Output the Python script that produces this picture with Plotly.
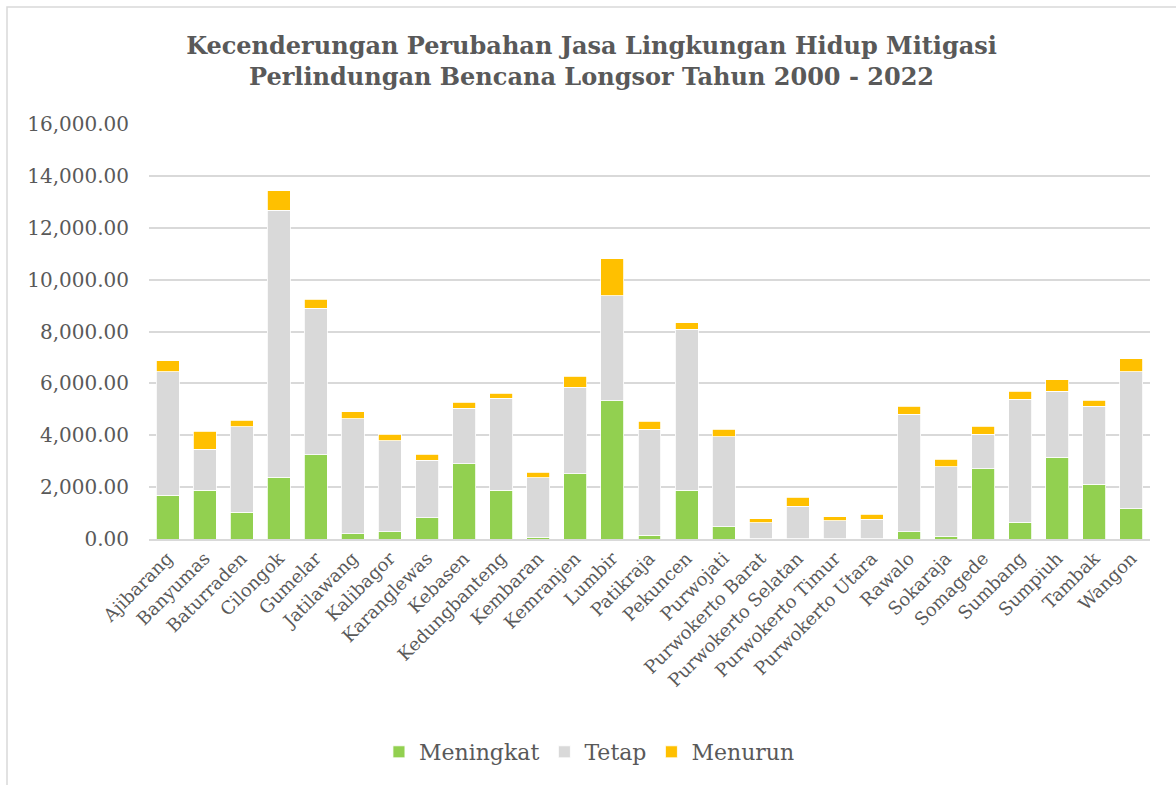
import plotly.graph_objects as go

# Kecamatan in Kabupaten Banyumas
kecamatan = [
    "Ajibarang", "Banyumas", "Baturraden", "Cilongok", "Gumelar", "Jatilawang",
    "Kalibagor", "Karanglewas", "Kebasen", "Kedungbanteng", "Kembaran",
    "Kemranjen", "Lumbir", "Patikraja", "Pekuncen", "Purwojati",
    "Purwokerto Barat", "Purwokerto Selatan", "Purwokerto Timur",
    "Purwokerto Utara", "Rawalo", "Sokaraja", "Somagede", "Sumbang",
    "Sumpiuh", "Tambak", "Wangon",
]

# Area per trend class (stacked)
meningkat = [1696, 1877, 1041, 2390, 3250, 205, 283, 822, 2904, 1877, 77,
             2518, 5333, 154, 1877, 475, 5, 15, 3, 3, 283, 90, 2711, 655,
             3161, 2107, 1169]
tetap = [4754, 1593, 3289, 10281, 5655, 4433, 3507, 2223, 2133, 3546, 2287,
         3329, 4048, 4087, 6206, 3470, 624, 1257, 704, 768, 4536, 2699, 1337,
         4742, 2544, 3020, 5281]
menurun = [424, 693, 257, 757, 347, 271, 258, 232, 232, 205, 219, 437, 1426,
           308, 257, 283, 155, 347, 154, 193, 308, 295, 308, 296, 437, 231,
           501]

y_ticks = [0, 2000, 4000, 6000, 8000, 10000, 12000, 14000, 16000]

series = [
    ("Meningkat", meningkat, "#92D050"),
    ("Tetap", tetap, "#D9D9D9"),
    ("Menurun", menurun, "#FFC000"),
]

TEXT = "#595959"
SERIF = "DejaVu Serif"

fig = go.Figure()
for name, vals, color in series:
    fig.add_trace(go.Bar(
        x=kecamatan, y=vals, name=name,
        marker=dict(color=color, line=dict(color="white", width=0.8)),
    ))

W, H = 1176, 785
ML, MR, MT, MB = 149, 26, 124, 246
pw, ph = W - ML - MR, H - MT - MB

fig.update_layout(
    width=W, height=H,
    barmode="stack", bargap=0.38,
    paper_bgcolor="white", plot_bgcolor="white",
    margin=dict(l=ML, r=MR, t=MT, b=MB, pad=0),
    font=dict(family=SERIF, color=TEXT),
    title=dict(
        text="<b>Kecenderungan Perubahan Jasa Lingkungan Hidup Mitigasi<br>"
             "Perlindungan Bencana Longsor Tahun 2000 - 2022</b>",
        x=0.503, xanchor="center", y=1 - 54 / H, yanchor="middle",
        yref="container",
        font=dict(family=SERIF, size=24, color=TEXT),
    ),
    xaxis=dict(
        tickangle=-45, tickfont=dict(size=18, color=TEXT),
        showgrid=False, showline=True, linecolor="#D9D9D9", linewidth=1.5,
        ticks="",
    ),
    yaxis=dict(
        range=[0, 16000], tickvals=y_ticks, tickformat=",.2f",
        tickfont=dict(size=20, color=TEXT),
        showgrid=True, gridcolor="#D9D9D9", gridwidth=1.5,
        zeroline=False, showline=False, ticks="", ticklabelstandoff=19,
    ),
    legend=dict(
        orientation="h", x=0.44, xanchor="center",
        y=(MB - (H - 752)) / -ph, yanchor="middle",
        traceorder="normal", font=dict(size=22, color=TEXT),
        itemwidth=30,
    ),
    showlegend=True,
)

# Chart-area frame
fig.add_shape(
    type="rect", xref="paper", yref="paper",
    x0=(7 - ML) / pw, x1=(W + 20 - ML) / pw,
    y0=-(MB + 40) / ph, y1=(MT - 7) / ph + 1,
    line=dict(color="#D9D9D9", width=1.5), fillcolor="rgba(0,0,0,0)",
    layer="below",
)

fig.write_html("out.html")
